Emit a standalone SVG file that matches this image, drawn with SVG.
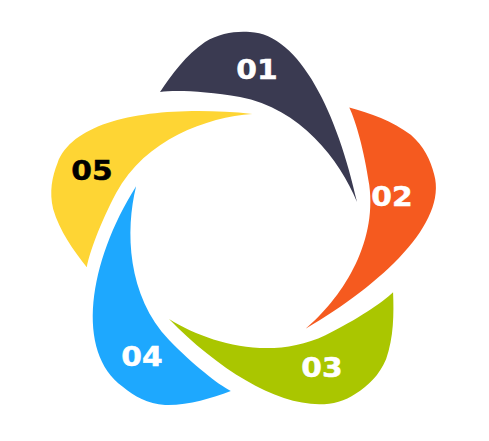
<svg xmlns="http://www.w3.org/2000/svg" xmlns:xlink="http://www.w3.org/1999/xlink" width="489" height="441" viewBox="0 0 489 441">
  <style>
    .lbl { font-family: "DejaVu Sans", "Liberation Sans", sans-serif; font-weight: bold; font-size: 27px; text-anchor: middle; stroke-width: 0.5px; }
    .w { fill: #ffffff; stroke: #ffffff; }
    .k { fill: #000000; stroke: #000000; }
  </style>
  <defs>
    <path id="petal" d="M160,92 C172,74 186,55 205,42 C220,33 235,31 250,32 C300,34 338,115 357,202 C340,160 300,108 240,97 C205,91 175,90 160,92 Z"/>
    <path id="petal-g" d="M160,92 C172,74 186,55 205,42 C220,33 235,31 250,32 C304,33 344,112 357,202 C340,160 300,108 240,97 C205,91 175,90 160,92 Z"/>
    <path id="petal-b" d="M160,92 C172,74 186,55 205,42 C220,33 235,31 250,32 C309,32 351,112 357,202 C340,160 300,108 240,97 C205,91 175,90 160,92 Z"/>
  </defs>
  <rect width="489" height="441" fill="#ffffff"/>
  <g id="node-01">
    <use xlink:href="#petal" href="#petal" fill="#3a3a51"/>
    <text class="lbl w" transform="translate(257,79) scale(1.1,1)">01</text>
  </g>
  <g id="node-02">
    <use xlink:href="#petal" href="#petal" fill="#f55a1f" transform="rotate(72 244 230)"/>
    <text class="lbl w" transform="translate(392,206) scale(1.1,1)">02</text>
  </g>
  <g id="node-03">
    <use xlink:href="#petal-g" href="#petal-g" fill="#aac600" transform="rotate(144 244 230)"/>
    <text class="lbl w" transform="translate(322,377) scale(1.1,1)">03</text>
  </g>
  <g id="node-04">
    <use xlink:href="#petal-b" href="#petal-b" fill="#1ea8fe" transform="rotate(216 244 230)"/>
    <text class="lbl w" transform="translate(142,366) scale(1.1,1)">04</text>
  </g>
  <g id="node-05">
    <use xlink:href="#petal" href="#petal" fill="#fed534" transform="rotate(288 244 230)"/>
    <text class="lbl k" transform="translate(92,180) scale(1.1,1)">05</text>
  </g>
  <g id="connectors"></g>
</svg>
